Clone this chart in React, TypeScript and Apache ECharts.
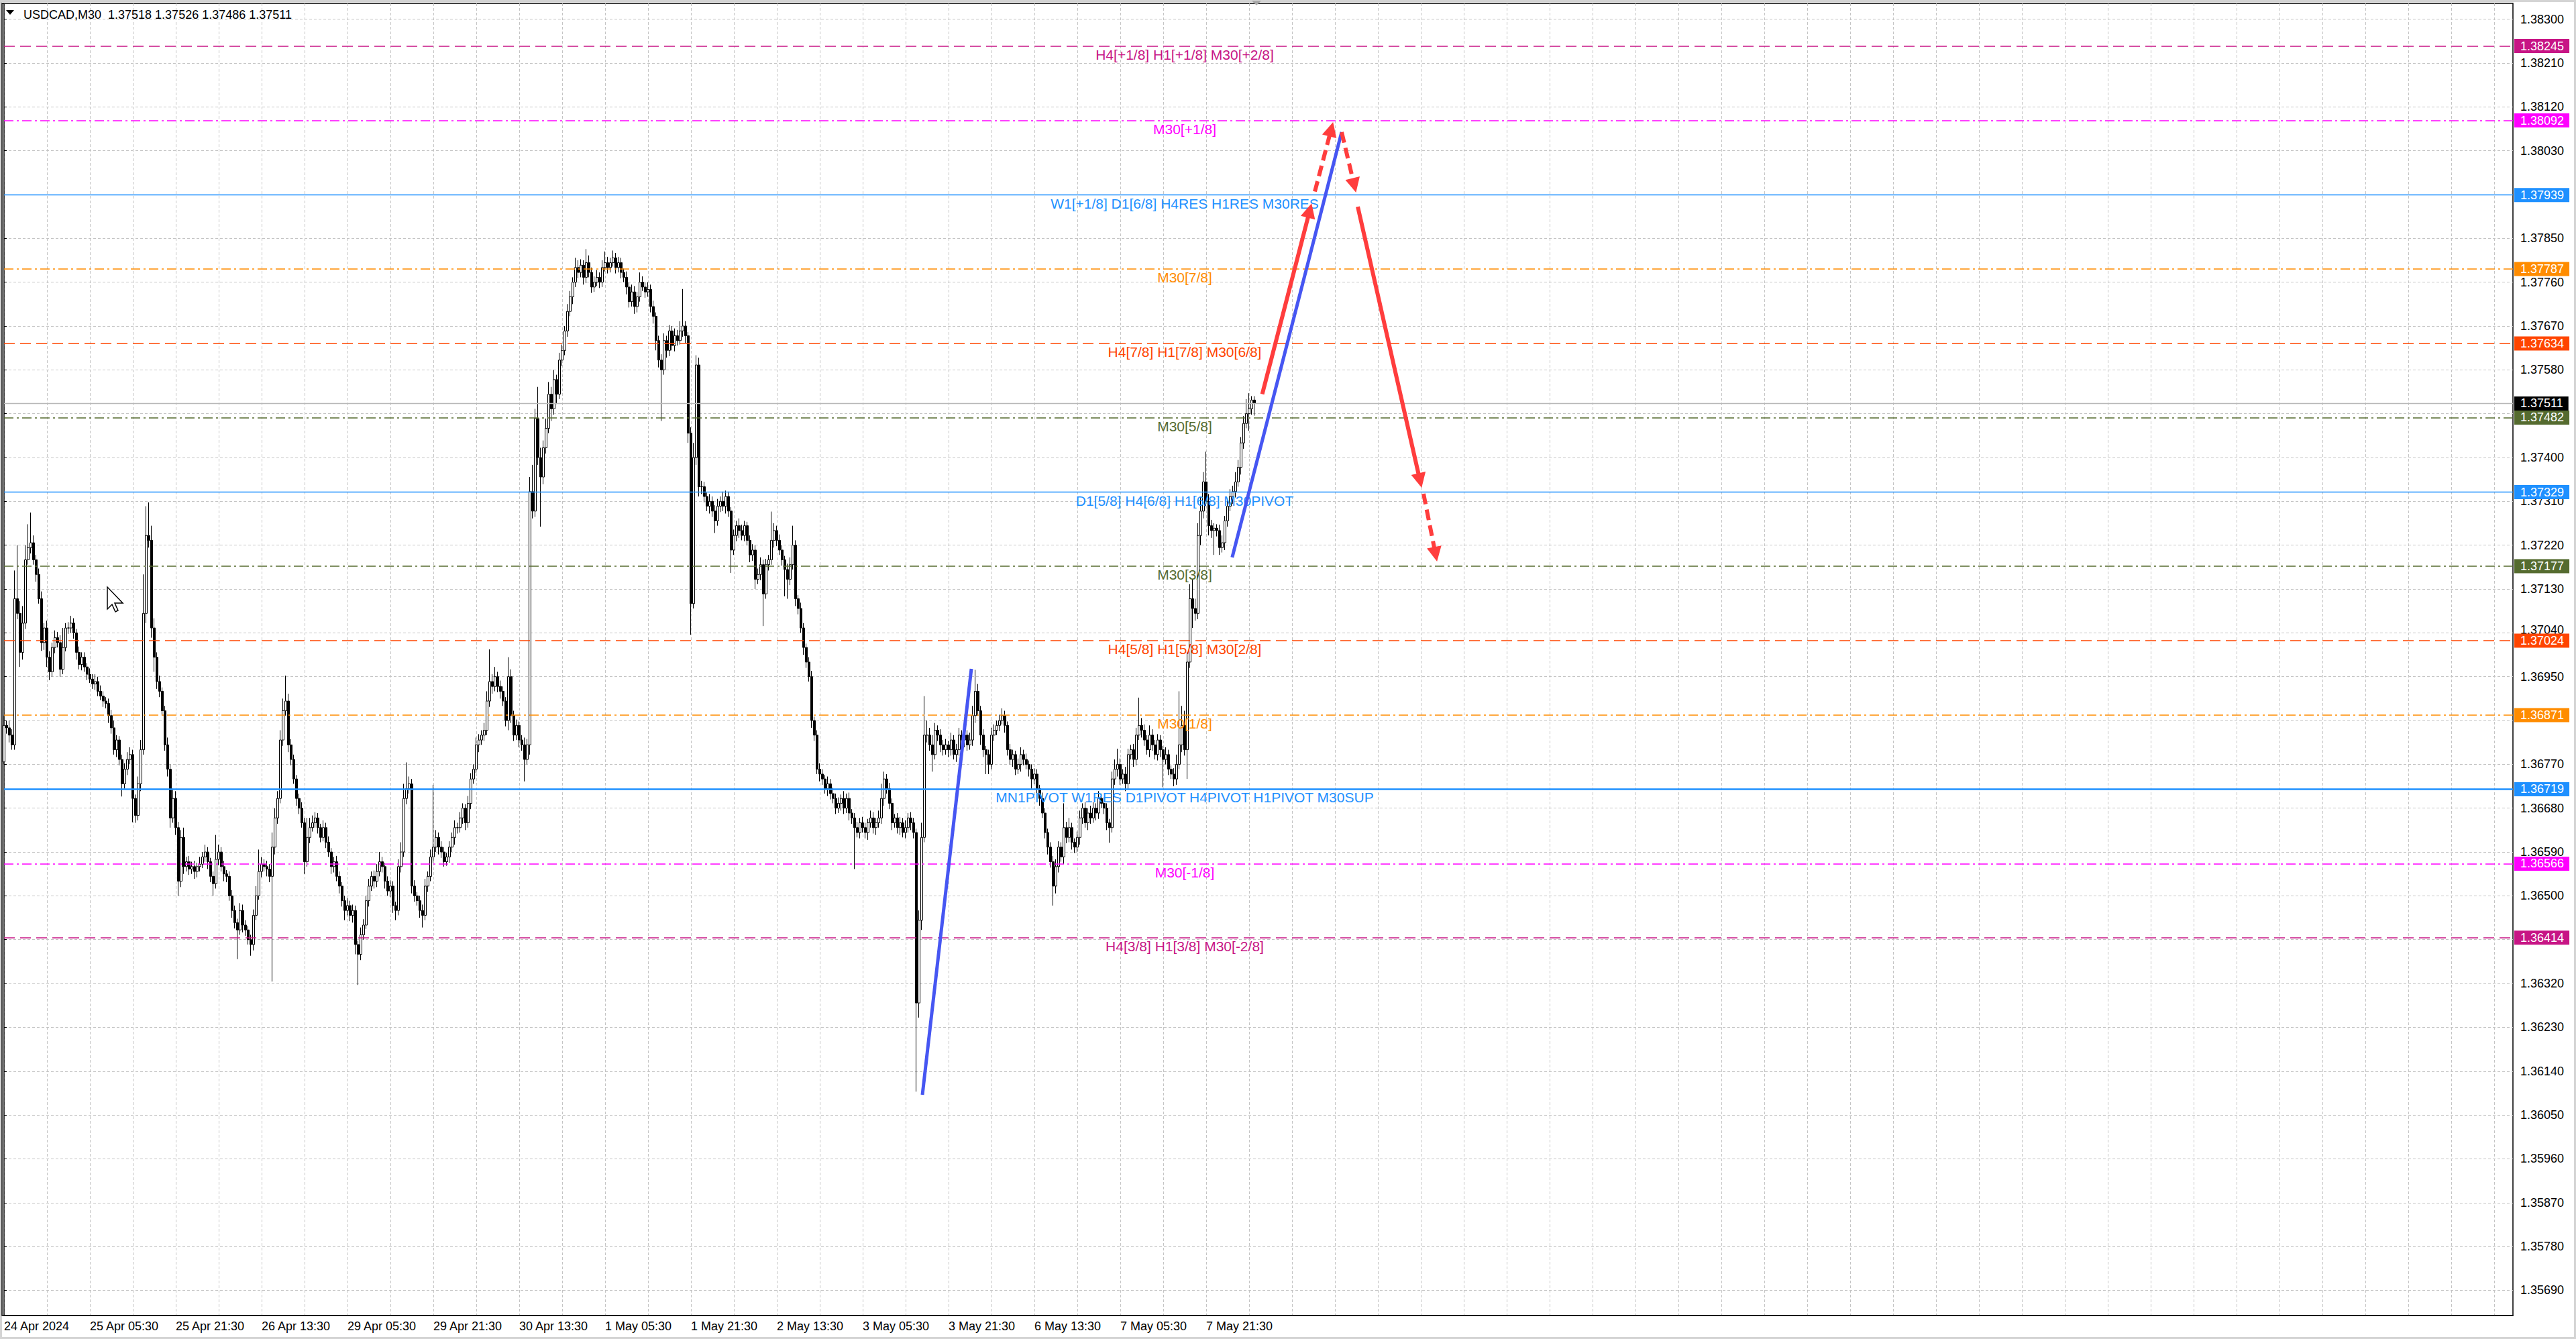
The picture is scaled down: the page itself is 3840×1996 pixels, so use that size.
import React, { useEffect, useRef } from 'react';
import * as echarts from 'echarts';

const FONT = "'Liberation Sans', Arial, sans-serif";

// ---------------- data ----------------
const SYMBOL_NAME = 'USDCAD,M30';
const timeLabels = [
  '24 Apr 2024', '25 Apr 05:30', '25 Apr 21:30', '26 Apr 13:30', '29 Apr 05:30',
  '29 Apr 21:30', '30 Apr 13:30', '1 May 05:30', '1 May 21:30', '2 May 13:30',
  '3 May 05:30', '3 May 21:30', '6 May 13:30', '7 May 05:30', '7 May 21:30',
];
const BARS_PER_LABEL = 32;
const BARS_PER_GRID = 16;
const TOTAL_SLOTS = 936;
const Y_MIN = 1.3563829;
const Y_MAX = 1.3833251;
const priceTicks = [
  1.3569, 1.3578, 1.3587, 1.3596, 1.3605, 1.3614, 1.3623, 1.3632, 1.3641, 1.365,
  1.3659, 1.3668, 1.3677, 1.3686, 1.3695, 1.3704, 1.3713, 1.3722, 1.3731, 1.374,
  1.3749, 1.3758, 1.3767, 1.3776, 1.3785, 1.3794, 1.3803, 1.3812, 1.3821, 1.383,
];
// tick labels that sit completely under a level price box in the reference
const coveredTicks = [1.3641, 1.3686, 1.3749, 1.3794];
// tick labels that peek out just above a level price box
const liftedTicks = [1.3704];

// candle values in points (0.00001) above 1.36000
const PRICE_BASE = 1.36;
const POINT = 0.00001;
const firstOpen = 775;
const closes = [
  850, 845, 830, 810, 1110, 1080, 1000, 1060, 1190, 1215,
  1225, 1190, 1160, 1110, 1020, 1050, 990, 960, 1010, 1030,
  1020, 965, 1010, 1050, 1050, 1060, 1040, 1000, 975, 990,
  970, 955, 945, 935, 940, 920, 910, 900, 895, 870,
  845, 800, 820, 780, 730, 760, 780, 790, 700, 665,
  730, 800, 1080, 1240, 1230, 1050, 990, 940, 920, 880,
  810, 760, 660, 700, 640, 530, 620, 560, 570, 555,
  560, 550, 560, 565, 580, 590, 570, 540, 525, 575,
  590, 560, 545, 540, 500, 470, 445, 430, 470, 440,
  430, 410, 400, 460, 500, 550, 565, 560, 555, 540,
  600, 660, 700, 820, 880, 900, 810, 780, 740, 700,
  680, 650, 570, 620, 640, 650, 660, 640, 620, 640,
  610, 590, 560, 570, 540, 520, 490, 470, 480, 460,
  470, 400, 380, 420, 440, 490, 520, 540, 530, 550,
  570, 560, 530, 510, 520, 480, 470, 560, 590, 700,
  720, 730, 520, 500, 490, 470, 460, 520, 540, 580,
  600, 620, 600, 590, 570, 580, 600, 620, 640, 640,
  660, 680, 650, 690, 740, 760, 810, 820, 830, 840,
  900, 940, 930, 950, 930, 920, 900, 860, 950, 870,
  830, 850, 820, 810, 780, 810, 1330, 1290, 1480, 1400,
  1360, 1420, 1460, 1530, 1500, 1560, 1530, 1600, 1620, 1660,
  1700, 1730, 1760, 1790, 1780, 1795, 1770, 1800, 1780, 1750,
  1760, 1770, 1760, 1790, 1800, 1790, 1800, 1810, 1790, 1800,
  1780, 1770, 1750, 1720, 1740, 1710, 1730, 1760, 1750, 1740,
  1745, 1710, 1690, 1640, 1600, 1580, 1640, 1620, 1660, 1630,
  1650, 1640, 1660, 1670, 1650, 1450, 1100, 1400, 1590, 1340,
  1340, 1320, 1300, 1310, 1290, 1270, 1300, 1310, 1300, 1320,
  1290, 1210, 1240, 1260, 1250, 1240, 1260, 1230, 1200, 1210,
  1150, 1160, 1180, 1120, 1180, 1190, 1230, 1250, 1230, 1210,
  1190, 1170, 1150, 1180, 1220, 1110, 1090, 1050, 1010, 980,
  950, 860, 830, 760, 750, 740, 720, 730, 710, 700,
  680, 690, 700, 680, 700, 670, 660, 640, 630, 650,
  640, 630, 650, 660, 640, 650, 660, 700, 740, 720,
  690, 650, 660, 640, 650, 630, 640, 660, 650, 630,
  280, 450, 620, 830, 830, 810, 790, 840, 830, 810,
  800, 810, 800, 820, 790, 800, 830, 820, 830, 810,
  820, 870, 920, 880, 830, 800, 790, 770, 830, 840,
  850, 860, 870, 850, 800, 780, 790, 760, 770, 790,
  780, 770, 760, 740, 750, 720, 700, 670, 630, 600,
  570, 520, 560, 600, 580, 640, 620, 640, 610, 600,
  620, 660, 680, 650, 670, 660, 680, 670, 700, 690,
  680, 650, 640, 740, 760, 770, 740, 750, 730, 790,
  800, 780, 830, 850, 840, 820, 800, 830, 810, 790,
  820, 800, 780, 790, 760, 750, 740, 770, 810, 850,
  800, 980, 1110, 1090, 1080, 1240, 1290, 1350, 1310, 1260,
  1250, 1255, 1250, 1215, 1225, 1270, 1300, 1320, 1330, 1350,
  1380, 1430, 1470, 1490, 1500, 1518, 1511,
];
const upperWicks = [
  20, 10, 15, 12, 58, 110, 25, 35, 30, 48,
  62, 15, 10, 12, 15, 10, 15, 12, 10, 15,
  12, 15, 40, 10, 12, 15, 10, 8, 12, 10,
  10, 8, 12, 10, 15, 10, 12, 10, 8, 10,
  12, 15, 10, 8, 10, 12, 15, 15, 10, 8,
  15, 20, 80, 60, 68, 30, 20, 10, 12, 8,
  10, 15, 10, 20, 15, 12, 15, 20, 10, 12,
  10, 12, 8, 15, 10, 15, 10, 8, 10, 50,
  15, 10, 12, 8, 10, 12, 10, 8, 15, 12,
  10, 8, 10, 12, 20, 45, 15, 10, 12, 10,
  30, 20, 15, 20, 25, 52, 15, 12, 10, 8,
  10, 12, 10, 40, 20, 15, 12, 10, 8, 15,
  10, 12, 8, 10, 12, 10, 8, 10, 15, 10,
  12, 10, 8, 15, 12, 10, 15, 10, 12, 15,
  20, 10, 8, 10, 12, 10, 8, 15, 20, 30,
  54, 15, 10, 12, 8, 10, 12, 15, 10, 15,
  128, 15, 10, 12, 10, 8, 12, 10, 15, 10,
  12, 10, 8, 15, 12, 10, 15, 12, 10, 15,
  20, 66, 15, 20, 10, 12, 10, 8, 40, 15,
  10, 12, 8, 10, 15, 12, 30, 55, 20, 65,
  20, 15, 20, 25, 15, 20, 10, 15, 12, 10,
  15, 12, 10, 20, 15, 12, 10, 28, 15, 10,
  12, 15, 10, 15, 23, 12, 10, 15, 10, 12,
  10, 8, 12, 10, 15, 12, 10, 20, 12, 10,
  15, 10, 12, 8, 10, 12, 15, 10, 12, 10,
  15, 12, 20, 76, 10, 8, 12, 30, 20, 15,
  12, 10, 8, 15, 10, 12, 15, 10, 20, 12,
  10, 8, 12, 10, 15, 12, 10, 8, 10, 12,
  10, 12, 15, 10, 12, 10, 59, 15, 10, 12,
  10, 8, 12, 15, 40, 10, 8, 12, 10, 8,
  10, 12, 8, 10, 12, 10, 8, 15, 10, 12,
  10, 12, 8, 15, 10, 12, 8, 10, 12, 10,
  12, 10, 8, 15, 12, 10, 15, 30, 15, 10,
  12, 10, 8, 10, 12, 10, 15, 10, 12, 10,
  8, 20, 30, 80, 30, 15, 20, 15, 10, 12,
  10, 12, 8, 15, 10, 12, 15, 10, 12, 10,
  15, 20, 44, 15, 10, 12, 8, 10, 15, 12,
  10, 12, 15, 10, 8, 12, 10, 8, 12, 15,
  10, 12, 8, 10, 12, 10, 8, 12, 10, 8,
  10, 12, 15, 12, 10, 50, 12, 20, 10, 8,
  12, 15, 10, 12, 10, 15, 12, 10, 15, 10,
  12, 10, 8, 15, 20, 32, 12, 10, 15, 12,
  10, 12, 15, 57, 15, 12, 10, 20, 12, 10,
  12, 10, 8, 15, 10, 8, 12, 20, 110, 40,
  30, 20, 30, 40, 20, 25, 30, 20, 62, 15,
  12, 10, 8, 12, 15, 10, 12, 15, 12, 20,
  15, 12, 15, 30, 32, 8, 8,
];
const lowerWicks = [
  5, 12, 15, 10, 10, 12, 30, 15, 12, 10,
  12, 10, 15, 10, 17, 15, 20, 17, 10, 12,
  10, 15, 10, 8, 12, 10, 12, 15, 10, 12,
  10, 12, 8, 10, 12, 10, 8, 12, 10, 15,
  12, 10, 15, 12, 26, 10, 12, 10, 49, 15,
  10, 15, 10, 20, 15, 20, 30, 15, 12, 10,
  12, 15, 20, 10, 15, 30, 12, 15, 10, 12,
  10, 15, 12, 10, 8, 10, 15, 12, 25, 10,
  12, 10, 15, 12, 10, 15, 12, 60, 10, 15,
  12, 10, 23, 12, 10, 8, 12, 10, 15, 12,
  216, 15, 12, 10, 12, 10, 15, 12, 10, 15,
  12, 10, 25, 10, 12, 8, 10, 12, 10, 8,
  12, 10, 15, 12, 10, 15, 12, 20, 10, 12,
  15, 20, 63, 12, 10, 8, 12, 10, 15, 12,
  10, 12, 15, 10, 12, 15, 20, 10, 12, 10,
  12, 10, 15, 12, 10, 15, 25, 10, 12, 10,
  12, 10, 15, 12, 10, 8, 12, 10, 15, 12,
  10, 12, 15, 10, 12, 10, 8, 15, 10, 12,
  10, 12, 15, 10, 12, 15, 10, 12, 20, 15,
  12, 10, 15, 12, 45, 10, 20, 15, 12, 15,
  102, 15, 12, 10, 25, 12, 20, 10, 12, 10,
  12, 10, 15, 10, 12, 10, 15, 12, 10, 12,
  10, 8, 12, 10, 8, 12, 10, 8, 12, 10,
  12, 10, 15, 12, 10, 15, 12, 10, 8, 12,
  10, 12, 15, 20, 15, 105, 10, 15, 12, 10,
  12, 10, 8, 12, 15, 20, 64, 10, 15, 20,
  15, 12, 10, 15, 12, 25, 10, 12, 10, 15,
  12, 47, 10, 12, 15, 10, 12, 10, 15, 12,
  20, 10, 12, 66, 10, 12, 10, 15, 12, 10,
  12, 55, 40, 12, 10, 15, 12, 10, 15, 12,
  10, 15, 12, 10, 15, 12, 10, 15, 12, 10,
  12, 10, 15, 12, 10, 15, 12, 85, 10, 12,
  10, 12, 15, 10, 12, 15, 10, 12, 15, 10,
  12, 15, 10, 12, 15, 10, 12, 10, 15, 12,
  182, 30, 20, 10, 15, 12, 35, 10, 12, 15,
  12, 10, 15, 12, 10, 15, 12, 10, 15, 12,
  10, 12, 15, 10, 20, 15, 40, 20, 10, 12,
  10, 12, 8, 15, 12, 10, 15, 12, 10, 15,
  12, 10, 15, 20, 10, 12, 15, 10, 12, 15,
  12, 40, 15, 12, 10, 15, 12, 10, 15, 12,
  10, 15, 12, 10, 15, 12, 10, 15, 12, 10,
  12, 15, 31, 10, 12, 15, 12, 10, 15, 12,
  10, 15, 12, 10, 15, 12, 10, 15, 12, 10,
  12, 15, 57, 10, 12, 10, 15, 12, 10, 15,
  12, 60, 12, 40, 15, 12, 20, 15, 10, 20,
  15, 50, 12, 15, 10, 15, 12, 10, 15, 12,
  10, 15, 12, 10, 35, 12, 25,
];

// Murrey-math style levels
const levelPrices = [
  1.38245, 1.38092, 1.37939, 1.37787, 1.37634, 1.37482, 1.37329,
  1.37177, 1.37024, 1.36871, 1.36719, 1.36566, 1.36414,
];
const levelNames = [
  'H4[+1/8] H1[+1/8] M30[+2/8]',
  'M30[+1/8]',
  'W1[+1/8] D1[6/8] H4RES H1RES M30RES',
  'M30[7/8]',
  'H4[7/8] H1[7/8] M30[6/8]',
  'M30[5/8]',
  'D1[5/8] H4[6/8] H1[6/8] M30PIVOT',
  'M30[3/8]',
  'H4[5/8] H1[5/8] M30[2/8]',
  'M30[1/8]',
  'MN1PIVOT W1RES D1PIVOT H4PIVOT H1PIVOT M30SUP',
  'M30[-1/8]',
  'H4[3/8] H1[3/8] M30[-2/8]',
];
const LEVEL_LABEL_BAR = 440;

// drawn analysis lines: [[bar, price], [bar, price]]
const trendLines = [
  [[342.25, 1.360915], [360.5, 1.369661]],
  [[457.7, 1.37195], [498.5, 1.380682]],
];
const forecastSolid = [
  [[468.9, 1.3753], [486.6, 1.37907]],
  [[504.5, 1.37915], [527.7, 1.373528]],
];
const forecastDashed = [
  [[488.5, 1.37946], [494.6, 1.38074]],
  [[498.5, 1.38068], [503.2, 1.379588]],
  [[529, 1.373256], [533.5, 1.372014]],
];

// ---------------- styles ----------------
const DASH = [16, 8];
const DASHDOT = [14, 5, 3, 5];
const levelColors = [
  '#C71585', '#FF00FF', '#1E90FF', '#FF8C00', '#FF4500', '#556B2F', '#1E90FF',
  '#556B2F', '#FF4500', '#FF8C00', '#1E90FF', '#FF00FF', '#C71585',
];
const levelDash: any[] = [
  DASH, DASHDOT, 'solid', DASHDOT, DASH, DASHDOT, 'solid',
  DASHDOT, DASH, DASHDOT, 'solid', DASHDOT, DASH,
];
const levelWidth = [1.5, 1.5, 1.3, 1.5, 1.5, 1.5, 1.3, 1.5, 1.5, 1.5, 2.5, 1.5, 1.5];
const RED = '#ff3d3d';
const BLUE = '#4656f2';
const GRID_COLOR = '#c4c4c4';

function buildOption() {
  const toPrice = (v: number) => +(PRICE_BASE + v * POINT).toFixed(5);
  const candles = closes.map((c, i) => {
    const o = i === 0 ? firstOpen : closes[i - 1];
    const h = Math.max(o, c) + upperWicks[i];
    const l = Math.min(o, c) - lowerWicks[i];
    return [toPrice(o), toPrice(c), toPrice(l), toPrice(h)];
  });
  const last = candles[candles.length - 1];
  const currentPrice = last[1];
  const header = `${SYMBOL_NAME}  ${last[0].toFixed(5)} ${last[3].toFixed(5)} ${last[2].toFixed(5)} ${last[1].toFixed(5)}`;

  const near = (a: number, b: number) => Math.abs(a - b) < 1e-7;
  const labelTicks = priceTicks.filter((t) => !coveredTicks.some((c) => near(c, t)));

  const isLabelIdx = (i: number) =>
    i % BARS_PER_LABEL === 0 && i / BARS_PER_LABEL < timeLabels.length;
  const categories = Array.from({ length: TOTAL_SLOTS }, (_, i) =>
    isLabelIdx(i) ? timeLabels[i / BARS_PER_LABEL] : 'bar' + i
  );

  const boxLabel = (bg: string, text: string) => ({
    show: true,
    position: 'end',
    distance: 2,
    formatter: text,
    color: '#ffffff',
    backgroundColor: bg,
    padding: [2, 8, 1, 9],
    fontSize: 18,
    lineHeight: 18,
    fontFamily: FONT,
  });

  const markLineData: any[] = levelPrices.map((p, i) => ({
    yAxis: p,
    lineStyle: { color: levelColors[i], type: levelDash[i], width: levelWidth[i], opacity: 1 },
    label: boxLabel(levelColors[i], p.toFixed(5)),
  }));
  markLineData.push({
    yAxis: currentPrice,
    lineStyle: { color: '#b8b8b8', type: 'solid', width: 1.3, opacity: 1 },
    label: boxLabel('#000000', currentPrice.toFixed(5)),
  });

  const markPointData = levelPrices.map((p, i) => ({
    coord: [LEVEL_LABEL_BAR, p],
    label: {
      show: true,
      position: 'bottom',
      distance: 2,
      formatter: levelNames[i],
      color: levelColors[i],
      fontSize: 21,
      fontFamily: FONT,
    },
  }));

  const cursorPts = [[160, 875], [160, 908], [167, 901], [172, 912], [176, 910], [171, 899], [183, 899]];

  return {
    animation: false,
    backgroundColor: '#ffffff',
    textStyle: { fontFamily: FONT },
    title: {
      text: header,
      left: 30,
      top: 8,
      textStyle: { fontSize: 18, fontWeight: 'normal', color: '#000', fontFamily: FONT },
    },
    grid: { left: 6, top: 5, width: 3740, height: 1956, outerBoundsMode: 'none', containLabel: false },
    xAxis: [
      {
        type: 'category',
        data: categories,
        boundaryGap: false,
        axisLine: { show: true, lineStyle: { color: '#000', width: 1.5 } },
        axisTick: { show: false },
        axisLabel: {
          interval: (i: number) => isLabelIdx(i),
          formatter: (v: string, i: number) => (isLabelIdx(i) ? v : ''),
          align: 'left',
          margin: 7,
          fontSize: 18,
          color: '#000',
          fontFamily: FONT,
        },
        splitLine: {
          show: true,
          interval: (i: number) => i % BARS_PER_GRID === 0,
          lineStyle: { color: GRID_COLOR, type: [4, 3], width: 1 },
        },
      },
      { type: 'value', min: 0, max: TOTAL_SLOTS - 1, show: false },
    ],
    yAxis: {
      type: 'value',
      position: 'right',
      min: Y_MIN,
      max: Y_MAX,
      axisLine: { show: true, lineStyle: { color: '#000', width: 1.5 } },
      axisTick: { show: true, length: 4, customValues: priceTicks, lineStyle: { color: '#000' } },
      axisLabel: {
        customValues: labelTicks,
        formatter: (v: number) =>
          liftedTicks.some((t) => near(t, v)) ? `{lift|${v.toFixed(5)}}` : v.toFixed(5),
        rich: {
          lift: { fontSize: 18, color: '#000', fontFamily: FONT, padding: [0, 0, 8, 0] },
        },
        margin: 11,
        fontSize: 18,
        color: '#000',
        fontFamily: FONT,
      },
      splitLine: { show: true, lineStyle: { color: GRID_COLOR, type: [4, 3], width: 1 } },
    },
    series: [
      {
        type: 'candlestick',
        xAxisIndex: 0,
        yAxisIndex: 0,
        data: candles,
        barWidth: 3,
        itemStyle: {
          color: '#ffffff',
          color0: '#000000',
          borderColor: '#000000',
          borderColor0: '#000000',
          borderWidth: 1,
        },
        markLine: {
          silent: true,
          precision: 6,
          symbol: ['none', 'none'],
          data: markLineData,
        },
        markPoint: {
          silent: true,
          precision: 6,
          symbol: 'circle',
          symbolSize: 0.1,
          itemStyle: { color: 'rgba(0,0,0,0)' },
          data: markPointData,
        },
      },
      {
        type: 'lines',
        coordinateSystem: 'cartesian2d',
        xAxisIndex: 1,
        yAxisIndex: 0,
        z: 10,
        symbol: ['none', 'none'],
        lineStyle: { color: BLUE, width: 5, opacity: 1, curveness: 0 },
        data: trendLines.map((c) => ({ coords: c })),
      },
      {
        type: 'lines',
        coordinateSystem: 'cartesian2d',
        xAxisIndex: 1,
        yAxisIndex: 0,
        z: 11,
        symbol: ['none', 'triangle'],
        symbolSize: 22,
        lineStyle: { color: RED, width: 6, opacity: 1, curveness: 0, type: 'solid' },
        data: forecastSolid.map((c) => ({ coords: c })),
      },
      {
        type: 'lines',
        coordinateSystem: 'cartesian2d',
        xAxisIndex: 1,
        yAxisIndex: 0,
        z: 11,
        symbol: ['none', 'triangle'],
        symbolSize: 22,
        lineStyle: { color: RED, width: 6, opacity: 1, curveness: 0, type: [16, 8] },
        data: forecastDashed.map((c) => ({ coords: c })),
      },
    ],
    graphic: [
      {
        type: 'rect',
        silent: true,
        z: 0,
        shape: { x: 0, y: 0, width: 3840, height: 1996 },
        style: { fill: 'none', stroke: '#d4d4d4', lineWidth: 6 },
      },
      {
        type: 'rect',
        silent: true,
        z: 0,
        shape: { x: 3, y: 5, width: 3743, height: 1956 },
        style: { fill: 'none', stroke: '#000', lineWidth: 1.5 },
      },
      {
        type: 'polygon',
        silent: true,
        shape: { points: [[9, 15], [21, 15], [15, 22]] },
        style: { fill: '#000' },
      },
      {
        type: 'polygon',
        silent: true,
        shape: { points: [[1866, 1], [1880, 1], [1873, 8]] },
        style: { fill: '#a8a8a8' },
      },
      {
        type: 'polygon',
        silent: true,
        z: 100,
        shape: { points: cursorPts },
        style: { fill: '#ffffff', stroke: '#000', lineWidth: 1.5 },
      },
    ],
  };
}

export default function App() {
  const ref = useRef<HTMLDivElement>(null);
  useEffect(() => {
    const el = ref.current;
    if (!el) return;
    const chart = echarts.init(el, null, { renderer: 'svg' });
    chart.setOption(buildOption() as any);
    return () => chart.dispose();
  }, []);
  return (
    <div
      ref={ref}
      style={{ position: 'absolute', left: 0, top: 0, width: 3840, height: 1996, background: '#fff' }}
    />
  );
}
